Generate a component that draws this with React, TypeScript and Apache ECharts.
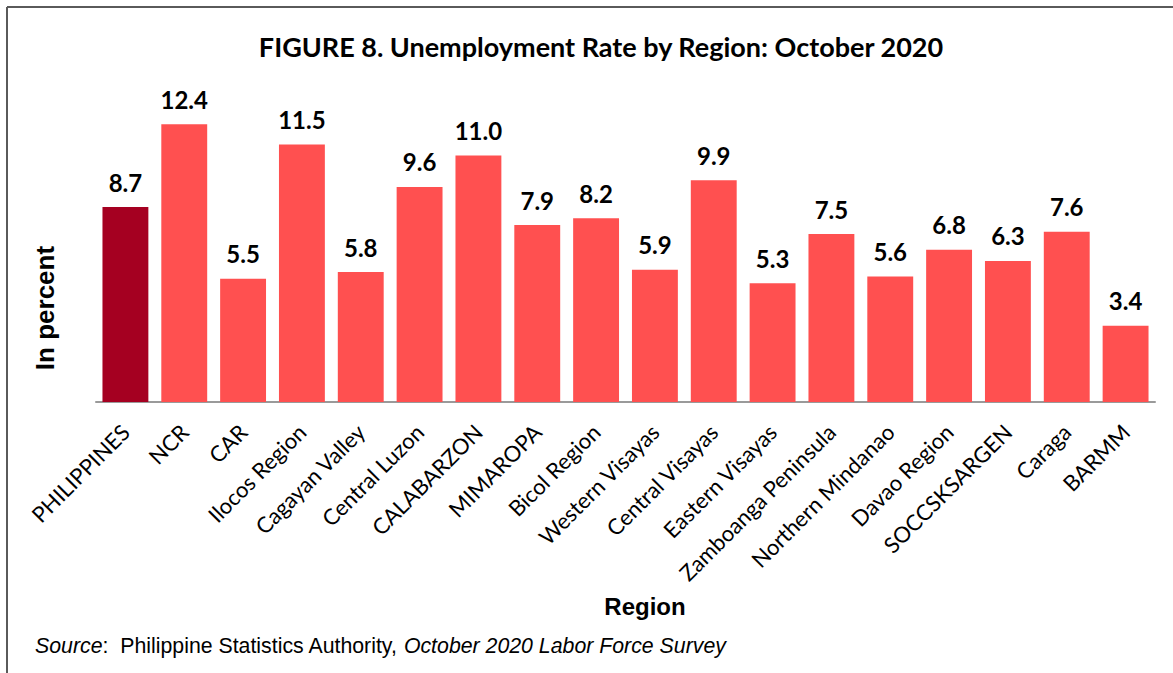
import React, { useEffect, useRef } from "react";
import * as echarts from "echarts";

const categories = [
  "PHILIPPINES", "NCR", "CAR", "Ilocos Region", "Cagayan Valley", "Central Luzon",
  "CALABARZON", "MIMAROPA", "Bicol Region", "Western Visayas", "Central Visayas",
  "Eastern Visayas", "Zamboanga Peninsula", "Northern Mindanao", "Davao Region",
  "SOCCSKSARGEN", "Caraga", "BARMM",
];
const rates = [8.7, 12.4, 5.5, 11.5, 5.8, 9.6, 11.0, 7.9, 8.2, 5.9, 9.9, 5.3, 7.5, 5.6, 6.8, 6.3, 7.6, 3.4];
const highlightIndex = 0;
const titleText = "FIGURE 8. Unemployment Rate by Region: October 2020";
const yAxisTitle = "In percent";
const xAxisTitle = "Region";

export default function App() {
  const ref = useRef<HTMLDivElement>(null);
  useEffect(() => {
    if (!ref.current) return;
    const chart = echarts.init(ref.current, null, { renderer: "svg" });
    chart.setOption({
      animation: false,
      backgroundColor: "#ffffff",
      title: {
        text: titleText,
        left: 596,
        textAlign: "center",
        top: 28,
        textStyle: { fontFamily: "Lato", fontWeight: "bold", fontSize: 27, color: "#000" },
      },
      grid: { left: 96, right: 18, top: 402 - 14 * 22.4, bottom: 673 - 402 },
      xAxis: {
        type: "category",
        data: categories,
        axisLine: { lineStyle: { color: "#9a9a9a", width: 2 } },
        axisTick: { show: false },
        axisLabel: {
          rotate: 45,
          interval: 0,
          margin: 26,
          fontFamily: "Lato",
          fontSize: 22,
          color: "#000",
        },
      },
      yAxis: {
        type: "value",
        min: 0,
        max: 14,
        show: false,
        splitLine: { show: false },
      },
      series: [
        {
          type: "bar",
          data: rates.map((v, i) => ({
            value: v,
            itemStyle: { color: i === highlightIndex ? "#A50021" : "#FF5050" },
          })),
          barCategoryGap: "22%",
          label: {
            show: true,
            position: "top",
            distance: 13,
            formatter: (p: any) => p.value.toFixed(1),
            fontFamily: "Lato",
            fontWeight: "bold",
            fontSize: 24,
            color: "#000",
          },
        },
      ],
      graphic: [
        { type: "line", shape: { x1: 7, y1: 7, x2: 1173, y2: 7 }, style: { stroke: "#5a5a5a", lineWidth: 2 } },
        { type: "line", shape: { x1: 7, y1: 7, x2: 7, y2: 673 }, style: { stroke: "#5a5a5a", lineWidth: 2 } },
        {
          type: "text",
          x: 45,
          y: 308,
          rotation: Math.PI / 2,
          style: {
            text: yAxisTitle,
            fontFamily: "Arial",
            fontWeight: "bold",
            fontSize: 26,
            fill: "#000",
            align: "center",
            verticalAlign: "middle",
          },
        },
        {
          type: "text",
          x: 645,
          y: 606,
          style: {
            text: xAxisTitle,
            fontFamily: "Arial",
            fontWeight: "bold",
            fontSize: 24,
            fill: "#000",
            align: "center",
            verticalAlign: "middle",
          },
        },
        {
          type: "text",
          x: 35,
          y: 646,
          style: {
            text: "{i|Source}{n|:  Philippine Statistics Authority, }{i|October 2020 Labor Force Survey}",
            fontFamily: "Arial",
            fontSize: 21.3,
            fill: "#000",
            verticalAlign: "middle",
            rich: {
              i: { fontFamily: "Arial", fontStyle: "italic", fontSize: 21.3, fill: "#000", color: "#000" },
              n: { fontFamily: "Arial", fontSize: 21.3, fill: "#000", color: "#000" },
            },
          },
        },
      ],
    });
    return () => chart.dispose();
  }, []);
  return <div ref={ref} style={{ position: "fixed", left: 0, top: 0, width: 1173, height: 673 }} />;
}
